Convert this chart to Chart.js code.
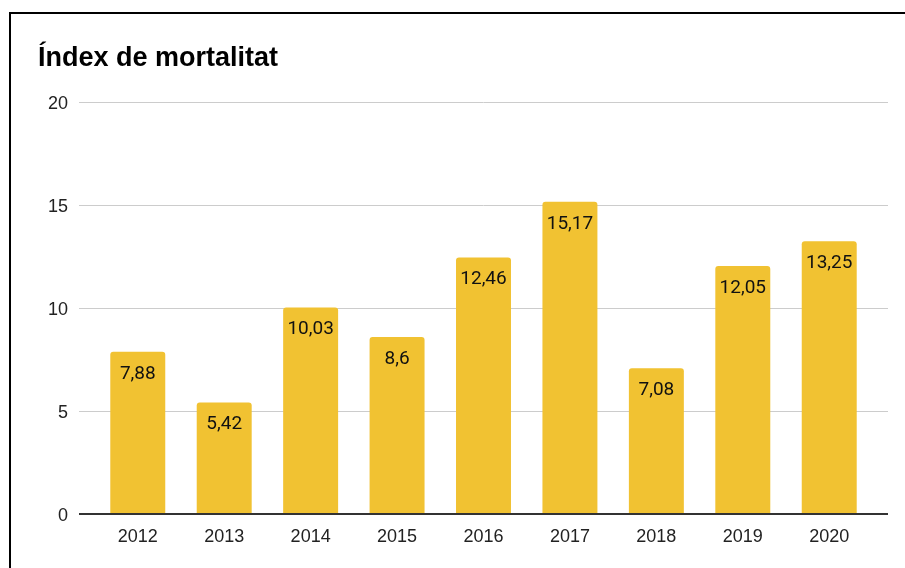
<!DOCTYPE html>
<html>
<head>
<meta charset="utf-8">
<script src="https://cdn.jsdelivr.net/npm/chart.js@4.4.1/dist/chart.umd.min.js"></script>
<style>
    html, body { margin: 0; padding: 0; background: #fff; overflow: hidden; }
    #wrap { position: relative; width: 905px; height: 568px; }
    #frame {
        position: absolute; left: 9px; top: 12px;
        width: 1000px; height: 1000px;
        border: 2px solid #000; pointer-events: none;
    }
</style>
</head>
<body>
<div id="wrap">
    <canvas id="chart" width="905" height="568"></canvas>
    <div id="frame"></div>
</div>
<script>
// dades
var years = [2012, 2013, 2014, 2015, 2016, 2017, 2018, 2019, 2020];
var mortality = [7.88, 5.42, 10.03, 8.6, 12.46, 15.17, 7.08, 12.05, 13.25];
var yTicks = [0, 5, 10, 15, 20];

var points = years.map(function (y, i) {
    return { x: y, y: mortality[i] };
});

// etiquetes dins de les barres
var barLabels = {
    id: 'barLabels',
    afterDatasetsDraw: function (chart) {
        var ctx = chart.ctx;
        var meta = chart.getDatasetMeta(0);
        ctx.save();
        ctx.font = '19px Roboto';
        ctx.fillStyle = '#111';
        ctx.textAlign = 'center';
        ctx.textBaseline = 'middle';
        meta.data.forEach(function (bar, i) {
            var txt = String(mortality[i]).replace('.', ',');
            ctx.fillText(txt, bar.x, bar.y + 22);
        });
        ctx.restore();
    }
};

var tickFont = { family: "'Liberation Sans', Arial", size: 18 };

var chart = new Chart(document.getElementById('chart'), {
    type: 'bar',
    data: {
        datasets: [{
            data: points,
            backgroundColor: '#f1c232',
            borderRadius: 3,
            borderSkipped: 'bottom',
            categoryPercentage: 1,
            barPercentage: 0.636
        }]
    },
    options: {
        responsive: false,
        animation: false,
        layout: { padding: { left: 38, right: 17, top: 0, bottom: 0 } },
        plugins: {
            legend: { display: false },
            tooltip: { enabled: false },
            title: {
                display: true,
                text: 'Índex de mortalitat',
                align: 'start',
                color: '#000',
                font: { family: "'Liberation Sans', Arial", size: 27, weight: 'bold' },
                padding: { top: 42, bottom: 28 }
            }
        },
        scales: {
            x: {
                type: 'linear',
                offset: false,
                min: years[0] - 0.68,
                max: years[years.length - 1] + 0.68,
                grid: { display: false },
                border: { display: false },
                afterBuildTicks: function (scale) {
                    scale.ticks = years.map(function (v) { return { value: v }; });
                },
                afterFit: function (scale) { scale.height = 54; },
                ticks: {
                    autoSkip: false,
                    maxRotation: 0,
                    padding: 4,
                    color: '#222',
                    font: tickFont,
                    callback: function (v) { return String(v); }
                }
            },
            y: {
                min: 0,
                max: 20,
                border: { display: false },
                afterBuildTicks: function (scale) {
                    scale.ticks = yTicks.map(function (v) { return { value: v }; });
                },
                afterFit: function (scale) { scale.width = 41; },
                grid: {
                    drawTicks: false,
                    color: function (c) { return c.tick && c.tick.value === 0 ? '#333' : '#ccc'; },
                    lineWidth: function (c) { return c.tick && c.tick.value === 0 ? 2 : 1; }
                },
                ticks: {
                    padding: 11,
                    labelOffset: 2,
                    color: '#222',
                    font: tickFont
                }
            }
        }
    },
    plugins: [barLabels]
});
</script>
</body>
</html>
